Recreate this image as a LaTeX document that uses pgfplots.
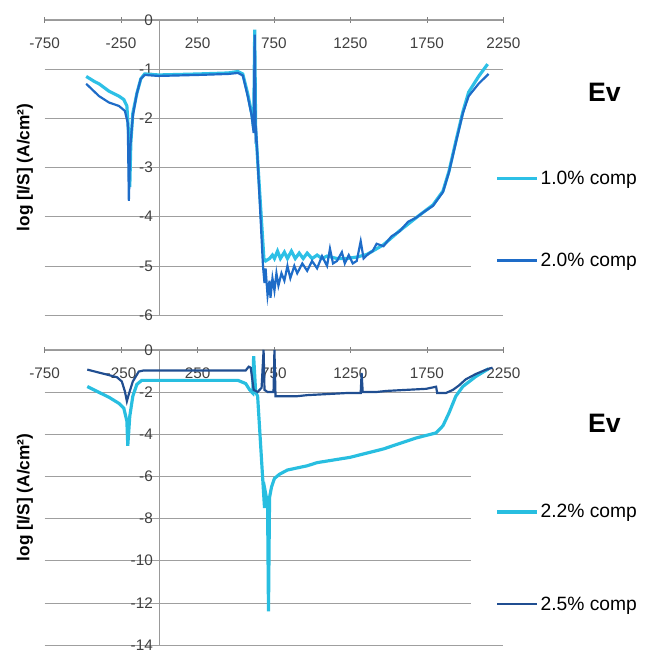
\documentclass[border=0pt]{standalone}
\usepackage{fontspec}
\setmainfont{Liberation Sans}
\usepackage{pgfplots}
\pgfplotsset{compat=1.18}

\definecolor{lightc}{RGB}{45,192,230}
\definecolor{medb}{RGB}{30,108,200}
\definecolor{lightd}{RGB}{40,190,224}
\definecolor{darkb}{RGB}{32,78,145}

\pgfplotsset{
 myaxis/.style={
  scale only axis, width=463bp, height=298bp,
  xmin=-750, xmax=2250,
  axis x line=middle, axis y line=middle,
  axis line style={-, gray!80},
  xtick={-750,-250,250,750,1250,1750,2250},
  ymajorgrids, grid style={gray!75, line width=0.8pt},
  hide obscured x ticks=false, hide obscured y ticks=false,
  tick label style={font=\fontsize{15.5}{18}\selectfont, color=black!75},
  /pgf/number format/assume math mode=true,
  /pgf/number format/set thousands separator={},
  x tick label style={yshift=-12bp},
  major tick length=6bp,
  x tick style={gray}, y tick style={draw=none},
  ylabel={log [I/S] (A/cm²)},
  ylabel style={at={(axis description cs:-0.043,0.5)}, anchor=center, rotate=90, font=\bfseries\fontsize{17.5}{20}\selectfont},
  legend cell align=left,
  legend image code/.code={\draw[##1] (0bp,0bp) -- (40bp,0bp);},
 }
}

\begin{document}
\begin{tikzpicture}
\begin{axis}[myaxis, at={(45bp,-318bp)}, anchor=south west,
  ymin=-6, ymax=0, ytick={0,-1,-2,-3,-4,-5,-6},
  legend style={at={(axis description cs:0.929,0.597)}, anchor=north west, draw=none, fill=white,
    font=\fontsize{19.5}{22}\selectfont, row sep=64bp, inner xsep=25bp, inner ysep=30bp}]
\addplot[lightc, line width=3.2bp] coordinates {
(-478,-1.15) (-426,-1.25) (-394,-1.3) (-329,-1.45) (-264,-1.55) (-232,-1.62) (-212,-1.75)
(-199,-2.4) (-193,-3.4) (-186,-2.5) (-173,-1.9) (-147,-1.5) (-121,-1.2) (-96,-1.1)
(-5,-1.12) (254,-1.1) (449,-1.08) (514,-1.05) (546,-1.1) (578,-1.5) (604,-1.9) (617,-2.2)
(624,-0.2) (630,-2.2) (634,-2.4) (684,-4.85) (695,-4.9) (721,-4.85) (740,-4.78) (753,-4.85)
(773,-4.7) (792,-4.85) (818,-4.72) (838,-4.85) (864,-4.7) (889,-4.85) (915,-4.74) (941,-4.85)
(967,-4.74) (999,-4.85) (1032,-4.78) (1064,-4.85) (1097,-4.8) (1162,-4.85) (1226,-4.85)
(1291,-4.82) (1356,-4.77) (1466,-4.57) (1570,-4.29) (1680,-4.02) (1790,-3.76) (1855,-3.48)
(1894,-3.08) (1939,-2.47) (1985,-1.87) (2023,-1.47) (2088,-1.15) (2147,-0.9)
};
\addlegendentry{1.0\% comp}
\addplot[medb, line width=2.2bp] coordinates {
(-478,-1.3) (-394,-1.55) (-329,-1.68) (-264,-1.75) (-225,-1.85) (-206,-2.1) (-199,-3.68)
(-190,-2.6) (-173,-1.95) (-147,-1.5) (-121,-1.2) (-96,-1.12) (-5,-1.14) (254,-1.12)
(449,-1.1) (514,-1.08) (546,-1.13) (578,-1.55) (604,-1.95) (617,-2.3) (624,-0.3) (630,-2.35)
(634,-2.3) (678,-5.0) (688,-5.35) (695,-5.05) (708,-5.6) (721,-5.3) (727,-5.65) (740,-5.25)
(753,-5.5) (766,-5.15) (779,-5.4) (799,-5.15) (818,-5.3) (838,-5.0) (857,-5.25) (883,-5.0)
(902,-5.15) (935,-4.95) (967,-5.1) (999,-4.9) (1032,-5.05) (1064,-4.8) (1097,-5.0) (1116,-4.65)
(1136,-4.95) (1162,-4.9) (1194,-4.72) (1213,-4.95) (1239,-4.78) (1265,-4.95) (1291,-4.9)
(1317,-4.5) (1336,-4.85) (1369,-4.75) (1395,-4.7) (1421,-4.55) (1466,-4.6) (1518,-4.4)
(1570,-4.3) (1628,-4.1) (1680,-4.02) (1732,-3.9) (1790,-3.78) (1855,-3.5) (1894,-3.1)
(1939,-2.5) (1985,-1.9) (2023,-1.55) (2088,-1.3) (2153,-1.1)
};
\addlegendentry{2.0\% comp}
\end{axis}

\begin{axis}[myaxis, at={(45bp,-651bp)}, anchor=south west,
  ymin=-14, ymax=0, ytick={0,-2,-4,-6,-8,-10,-12,-14},
  legend style={at={(axis description cs:0.929,0.584)}, anchor=north west, draw=none, fill=white,
    font=\fontsize{19.5}{22}\selectfont, row sep=74bp, inner xsep=25bp, inner ysep=30bp}]
\addplot[lightd, line width=3.2bp] coordinates {
(-471,-1.74) (-394,-2.02) (-329,-2.25) (-264,-2.54) (-232,-2.77) (-212,-3.38) (-206,-4.55)
(-193,-3.15) (-173,-2.2) (-147,-1.64) (-115,-1.45) (-5,-1.45) (254,-1.45) (514,-1.45)
(565,-1.6) (591,-1.9) (611,-2.05) (617,-0.3) (630,-2.0) (643,-2.2) (688,-7.5) (695,-6.8)
(708,-7.3) (714,-12.4) (721,-7.0) (734,-6.5) (753,-6.1) (786,-5.9) (838,-5.7) (902,-5.6)
(967,-5.5) (1032,-5.35) (1246,-5.1) (1466,-4.7) (1680,-4.18) (1810,-3.94) (1855,-3.6)
(1894,-3.0) (1939,-2.2) (1985,-1.74) (2069,-1.27) (2153,-0.9)
};
\addlegendentry{2.2\% comp}
\addplot[darkb, line width=2.2bp] coordinates {
(-471,-0.94) (-394,-1.08) (-329,-1.2) (-277,-1.3) (-245,-1.5) (-225,-1.97) (-212,-2.44)
(-199,-2.1) (-173,-1.5) (-134,-1.03) (-102,-0.98) (254,-0.98) (565,-0.98) (585,-0.8)
(598,-0.85) (617,-1.9) (643,-2.0) (669,-1.8) (682,0.0) (688,-1.9) (708,-2.0) (747,-2.0)
(753,0.0) (760,-2.2) (902,-2.2) (967,-2.15) (1097,-2.1) (1226,-2.05) (1317,-2.05)
(1323,-1.1) (1330,-2.0) (1421,-2.0) (1486,-1.95) (1615,-1.9) (1745,-1.85) (1810,-1.75)
(1817,-2.05) (1874,-2.05) (1920,-1.9) (1958,-1.7) (2004,-1.4) (2069,-1.15) (2134,-0.95)
(2179,-0.85)
};
\addlegendentry{2.5\% comp}
\end{axis}

\node[font=\bfseries\fontsize{27}{30}\selectfont] at (610bp,-93bp) {Ev};
\node[font=\bfseries\fontsize{27}{30}\selectfont] at (610bp,-427bp) {Ev};

\pgfresetboundingbox
\useasboundingbox (0,0) rectangle (657bp,-660bp);
\end{tikzpicture}
\end{document}
